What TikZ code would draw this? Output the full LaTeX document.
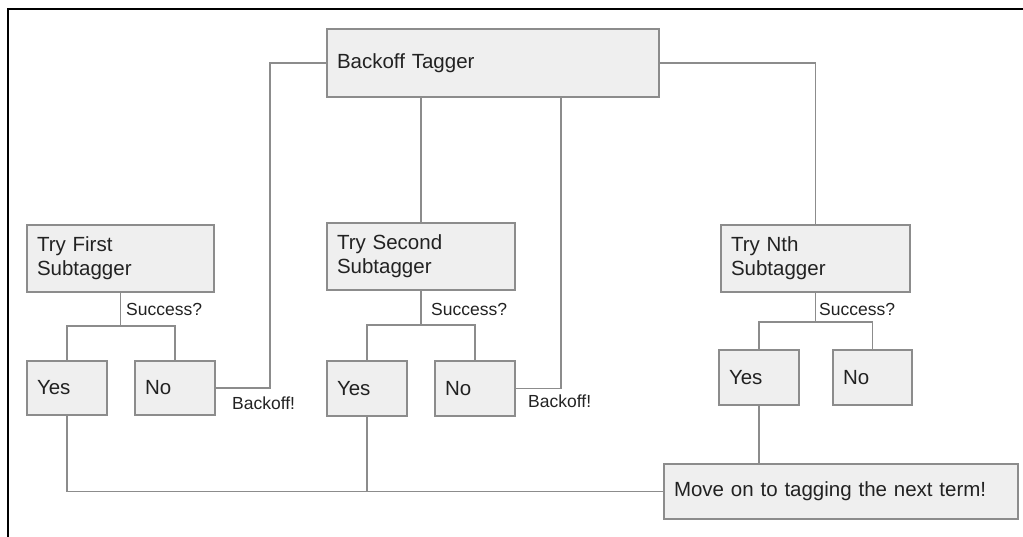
\documentclass[tikz,border=0pt]{standalone}
\usepackage{fontspec}
\setmainfont{Liberation Sans}
\definecolor{boxfill}{HTML}{EFEFEF}
\definecolor{boxline}{HTML}{8C8C8C}
\definecolor{txt}{HTML}{222222}
\begin{document}
\begin{tikzpicture}[x=1pt,y=-1pt,
  box/.style={draw=boxline, fill=boxfill, line width=1.2pt, inner xsep=10pt, inner ysep=0pt,
    outer sep=0pt, anchor=north west, align=left, text=txt,
    font=\fontsize{20.5}{24}\selectfont},
  lbl/.style={anchor=west, inner sep=0pt, text=txt, font=\fontsize{17.5}{20}\selectfont},
  conn/.style={draw=boxline, line width=1.2pt}]
\useasboundingbox (0,0) rectangle (1023,537);
% frame
\draw[line width=1.8pt, black] (8,537) -- (8,9) -- (1023,9);
% boxes
\node[box, text width=312pt, minimum height=68pt] (bt) at (327,29) {Backoff Tagger};
\node[box, text width=167pt, minimum height=67pt] (t1) at (27,225) {Try First\\Subtagger};
\node[box, text width=168pt, minimum height=67pt] (t2) at (327,223) {Try Second\\Subtagger};
\node[box, text width=169pt, minimum height=67pt] (tn) at (721,225) {Try Nth\\Subtagger};
\node[box, text width=60pt, minimum height=54pt] (y1) at (27,361) {Yes};
\node[box, text width=60pt, minimum height=54pt] (n1) at (135,361) {No};
\node[box, text width=60pt, minimum height=55pt] (y2) at (327,361) {Yes};
\node[box, text width=60pt, minimum height=55pt] (n2) at (435,361) {No};
\node[box, text width=60pt, minimum height=55pt] (yn) at (719,350) {Yes};
\node[box, text width=59pt, minimum height=55pt] (nn) at (833,350) {No};
\node[box, text width=334pt, minimum height=55pt] (mv) at (664,464) {Move on to tagging the next term!};
% labels
\node[lbl] (sq1) at (126,309) {Success?};
\node[lbl] (sq2) at (431,309) {Success?};
\node[lbl] (sqn) at (819,309) {Success?};
\node[lbl] (bo1) at (232,403) {Backoff!};
\node[lbl] (bo2) at (528,401) {Backoff!};
% junctions
\coordinate (k1) at (270,63);
\coordinate (k2) at (561,97);
\coordinate (s1) at (120.5,326);
\coordinate (s2) at (421,325);
\coordinate (sn) at (815.5,322);
% connectors
\draw[conn] (bt.west) -- (k1) |- (n1.east);
\draw[conn] (n2.east) -| (k2);
\draw[conn] (bt.east) -| (tn.north);
\draw[conn] (t2.north) -- (t2.north |- bt.south);
\draw[conn] (t1.south) -- (s1);
\draw[conn] (y1.north) |- (s1) -| (n1.north);
\draw[conn] (t2.south) -- (s2);
\draw[conn] (y2.north) |- (s2) -| (n2.north);
\draw[conn] (tn.south) -- (sn);
\draw[conn] (yn.north) |- (sn) -| (nn.north);
\draw[conn] (y1.south) |- (mv.west);
\draw[conn] (y2.south) -- (y2.south |- mv.west);
\draw[conn] (yn.south) -- (yn.south |- mv.north);
\end{tikzpicture}
\end{document}
